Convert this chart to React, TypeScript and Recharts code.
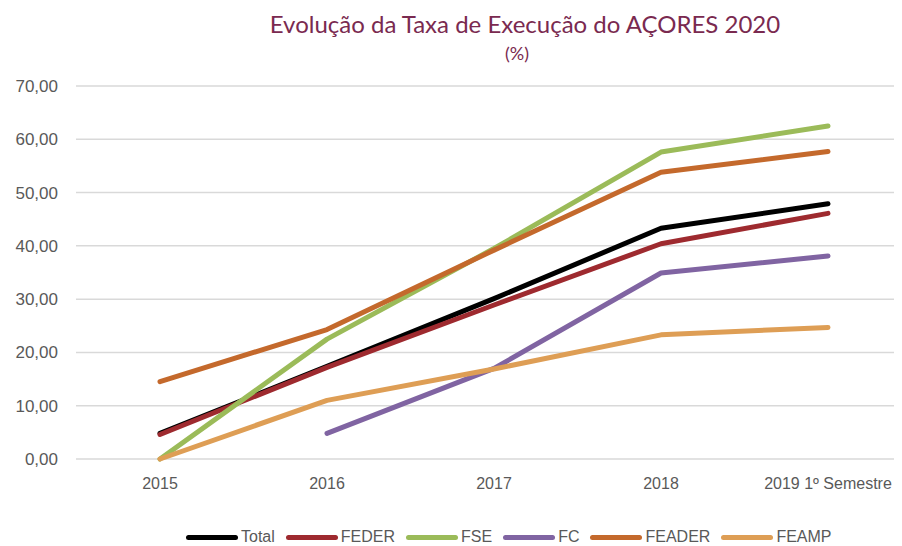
import { LineChart, Line, XAxis, YAxis, CartesianGrid } from 'recharts';

const years = ['2015', '2016', '2017', '2018', '2019 1º Semestre'];
const total = [4.8, 17.4, 30.1, 43.3, 47.9];
const feder = [4.6, 17.2, 28.9, 40.4, 46.1];
const fse = [0, 22.5, 39.5, 57.6, 62.5];
const fc = [null, 4.8, 17.0, 34.9, 38.1];
const feader = [14.5, 24.3, 39.2, 53.8, 57.7];
const feamp = [0, 11.0, 16.9, 23.3, 24.7];
const yTicks = [0, 10, 20, 30, 40, 50, 60, 70];

const series = [
  { key: 'Total', values: total, color: '#000000' },
  { key: 'FEDER', values: feder, color: '#9E2A2F' },
  { key: 'FSE', values: fse, color: '#9BBB59' },
  { key: 'FC', values: fc, color: '#8064A2' },
  { key: 'FEADER', values: feader, color: '#C4692C' },
  { key: 'FEAMP', values: feamp, color: '#DE9E55' },
];

const data = years.map((year, i) => {
  const row: Record<string, string | number | null> = { year };
  series.forEach((s) => {
    row[s.key] = s.values[i];
  });
  return row;
});

const font = '"Liberation Sans", Arial, sans-serif';

export default function App() {
  return (
    <div style={{ position: 'relative', width: 902, height: 546, margin: '-8px 0 0 -8px', background: '#fff', fontFamily: font }}>
      <div style={{ position: 'absolute', top: 10, left: 260, width: 530, textAlign: 'center', color: '#7A2A50', fontFamily: 'Lato, sans-serif', fontWeight: 400, fontSize: 24, lineHeight: '27px' }}>
        Evolução da Taxa de Execução do AÇORES 2020
        <br />
        <span style={{ fontSize: 18, marginLeft: -16 }}>(%)</span>
      </div>
      <LineChart width={902} height={546} data={data} margin={{ top: 86, right: 0, bottom: 0, left: 0 }}>
        <CartesianGrid vertical={false} stroke="#d9d9d9" strokeWidth={1.5} />
        <XAxis
          dataKey="year"
          axisLine={false}
          tickLine={false}
          tickSize={0}
          tickMargin={19}
          padding={{ left: 84, right: 74 }}
          interval={0}
          tick={{ fill: '#595959', fontSize: 16, fontFamily: font }}
          height={87}
        />
        <YAxis
          domain={[0, 70]}
          ticks={yTicks}
          width={76}
          axisLine={false}
          tickLine={false}
          tickSize={0}
          tickMargin={18}
          tickFormatter={(v: number) => v.toFixed(2).replace('.', ',')}
          tick={{ fill: '#595959', fontSize: 17, fontFamily: font }}
        />
        {series.map((s) => (
          <Line
            key={s.key}
            dataKey={s.key}
            stroke={s.color}
            strokeWidth={5}
            strokeLinecap="round"
            strokeLinejoin="round"
            dot={false}
            activeDot={false}
            connectNulls={false}
            isAnimationActive={false}
          />
        ))}
      </LineChart>
      <div style={{ position: 'absolute', top: 528, left: 186, display: 'flex', color: '#595959', fontSize: 16 }}>
        {series.map((s) => (
          <div key={s.key} style={{ display: 'flex', alignItems: 'center', marginRight: 11 }}>
            <span style={{ display: 'inline-block', width: 52, height: 5, borderRadius: 3, background: s.color, marginRight: 3 }} />
            <span>{s.key}</span>
          </div>
        ))}
      </div>
    </div>
  );
}
